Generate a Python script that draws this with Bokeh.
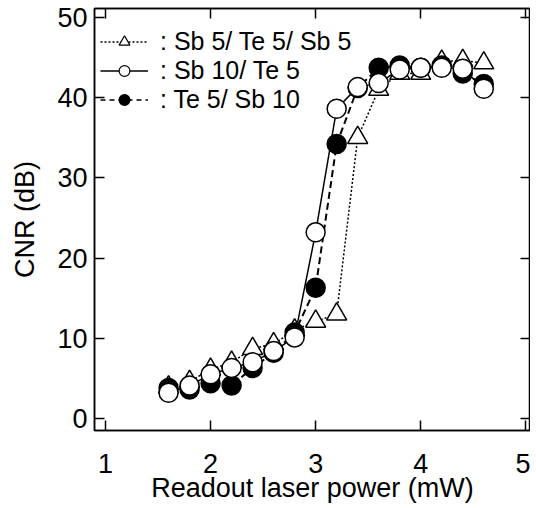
from bokeh.plotting import figure
from bokeh.models import LinearAxis, Legend, LegendItem, FixedTicker, Range1d
from bokeh.embed import file_html
from bokeh.resources import INLINE

# ---- data ----
power = [1.6, 1.8, 2.0, 2.2, 2.4, 2.6, 2.8, 3.0, 3.2, 3.4, 3.6, 3.8, 4.0, 4.2, 4.4, 4.6]
cnr_sb5_te5_sb5 = [3.9, 4.6, 6.1, 7.0, 8.7, 9.3, 11.0, 12.1, 13.0, 35.0, 41.0, 43.0, 43.0, 44.5, 44.6, 44.3]
cnr_sb10_te5 = [3.2, 4.1, 5.5, 6.3, 7.0, 8.4, 10.1, 23.2, 38.6, 41.3, 41.8, 43.5, 43.7, 43.7, 43.6, 41.1]
cnr_te5_sb10 = [3.8, 3.6, 4.4, 4.1, 6.3, 8.2, 10.7, 16.3, 34.2, 41.2, 43.7, 44.0, 43.7, 44.0, 43.0, 41.7]
legend_labels = [": Sb 5/ Te 5/ Sb 5", ": Sb 10/ Te 5", ": Te 5/ Sb 10"]
x_ticks = [1, 2, 3, 4, 5]
y_ticks = [0, 10, 20, 30, 40, 50]

FONT = "Liberation Sans"
NAN = float("nan")

p = figure(frame_width=436, frame_height=422,
           x_range=Range1d(0.895, 5.045), y_range=Range1d(-1.5, 51.1),
           output_backend="svg", toolbar_location=None,
           min_border_left=94, min_border_top=8, min_border_right=0, min_border_bottom=0,
           x_axis_label="Readout laser power (mW)", y_axis_label="CNR (dB)")

p.grid.visible = False
p.outline_line_color = "black"
p.outline_line_width = 1.5
p.background_fill_color = "white"
p.border_fill_color = "white"

for ax in p.xaxis + p.yaxis:
    ax.major_tick_in = 10
    ax.major_tick_out = 0
    ax.minor_tick_in = 0
    ax.minor_tick_out = 0
    ax.major_tick_line_width = 1.5
    ax.axis_line_width = 1.5
    ax.major_label_text_font = FONT
    ax.major_label_text_font_size = "27px"
    ax.major_label_text_color = "black"
    ax.axis_label_text_font = FONT
    ax.axis_label_text_font_size = "27px"
    ax.axis_label_text_font_style = "normal"
    ax.axis_label_text_color = "black"

p.xaxis.ticker = FixedTicker(ticks=x_ticks)
p.yaxis.ticker = FixedTicker(ticks=y_ticks)
p.xaxis.major_label_standoff = 23
p.xaxis.axis_label_standoff = -3
p.yaxis.major_label_standoff = 7
p.yaxis.axis_label_standoff = 14

# right and top axes: inward ticks, no labels
right = LinearAxis(ticker=FixedTicker(ticks=y_ticks))
top = LinearAxis(ticker=FixedTicker(ticks=x_ticks))
for ax in (right, top):
    ax.major_tick_in = 10
    ax.major_tick_out = 0
    ax.minor_tick_in = 0
    ax.minor_tick_out = 0
    ax.major_tick_line_width = 1.5
    ax.axis_line_width = 1.5
    ax.major_label_text_font_size = "0px"
    ax.major_label_standoff = 0
p.add_layout(right, "right")
p.add_layout(top, "above")

# lines
p.line(power, cnr_sb5_te5_sb5, line_color="black", line_width=1.5, line_dash="2 2")
p.line(power, cnr_te5_sb10, line_color="black", line_width=2, line_dash="7 4")
p.line(power, cnr_sb10_te5, line_color="black", line_width=1.5)

# markers
p.scatter(power, cnr_sb5_te5_sb5, marker="triangle", size=20, fill_color="white", line_color="black", line_width=1.5)
p.scatter(power, cnr_te5_sb10, marker="circle", size=19, fill_color="black", line_color="black", line_width=1.5)
p.scatter(power, cnr_sb10_te5, marker="circle", size=19, fill_color="white", line_color="black", line_width=1.5)

# legend-only renderers (smaller markers, not drawn in the plot area)
l1 = p.line([NAN], [NAN], line_color="black", line_width=1.5, line_dash="2 2")
m1 = p.scatter([NAN], [NAN], marker="triangle", size=11, fill_color="white", line_color="black", line_width=1.2)
l2 = p.line([NAN], [NAN], line_color="black", line_width=1.5)
m2 = p.scatter([NAN], [NAN], marker="circle", size=10, fill_color="white", line_color="black", line_width=1.2)
l3 = p.line([NAN], [NAN], line_color="black", line_width=1.5, line_dash="5 4")
m3 = p.scatter([NAN], [NAN], marker="circle", size=10, fill_color="black", line_color="black", line_width=1.2)

legend = Legend(items=[
    LegendItem(label=legend_labels[0], renderers=[l1, m1]),
    LegendItem(label=legend_labels[1], renderers=[l2, m2]),
    LegendItem(label=legend_labels[2], renderers=[l3, m3]),
], location=(6, 316))
legend.border_line_color = None
legend.background_fill_alpha = 0
legend.padding = 0
legend.margin = 0
legend.spacing = 0
legend.label_height = 27
legend.glyph_height = 27
legend.glyph_width = 48
legend.label_standoff = 12
legend.label_text_font = FONT
legend.label_text_font_size = "25px"
legend.label_text_color = "black"
p.add_layout(legend, "center")

open("out.html", "w").write(file_html(p, INLINE))
